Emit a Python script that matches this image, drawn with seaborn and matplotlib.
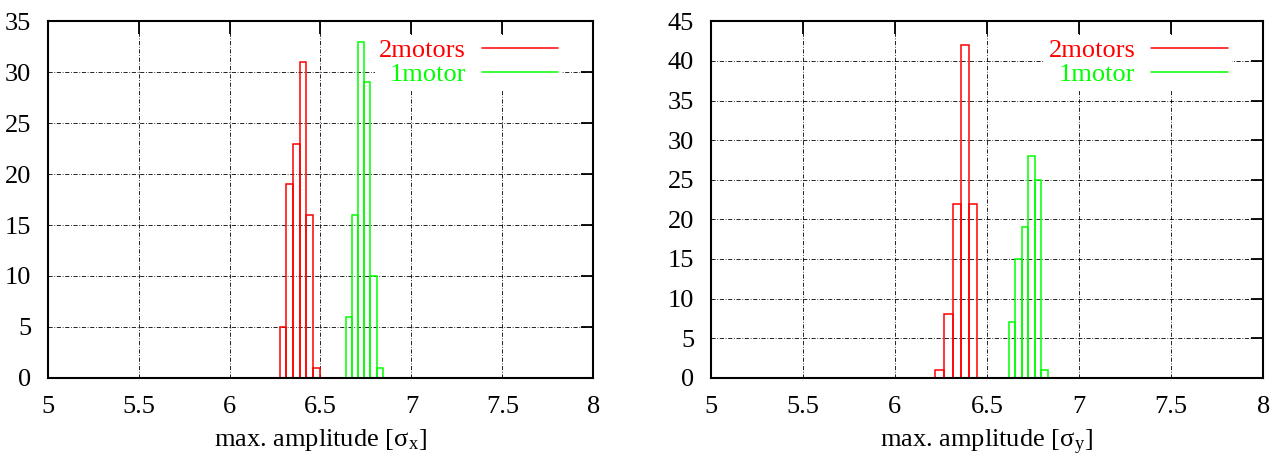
import numpy as np
import pandas as pd
import matplotlib
matplotlib.use("Agg")
import matplotlib.pyplot as plt
from matplotlib.lines import Line2D
import seaborn as sns

# === data: histogram bin centres and counts ===
# left panel (sigma_x)
x_two_centres = [6.295, 6.330, 6.367, 6.404, 6.440, 6.478]
x_two_counts = [5, 19, 23, 31, 16, 1]
x_one_centres = [6.655, 6.688, 6.722, 6.756, 6.790, 6.826]
x_one_counts = [6, 16, 33, 29, 10, 1]

# right panel (sigma_y)
y_two_centres = [6.243, 6.290, 6.337, 6.380, 6.424, 6.471]
y_two_counts = [1, 8, 22, 42, 22, 0]
y_one_centres = [6.638, 6.672, 6.707, 6.743, 6.778, 6.813]
y_one_counts = [7, 15, 19, 28, 25, 1]

labels = ["2motors", "1motor"]
colors = ["#ff0000", "#00ff00"]

sns.set_style("white")
plt.rcParams["font.family"] = ["Liberation Serif", "DejaVu Serif"]
plt.rcParams["mathtext.fontset"] = "stix"
plt.rcParams["text.color"] = "black"
plt.rcParams["axes.labelcolor"] = "black"

fig = plt.figure(figsize=(12.7, 4.57), dpi=100)
ax_l = fig.add_axes([0.0376, 0.1735, 0.4295, 0.7797])
ax_r = fig.add_axes([0.5596, 0.1735, 0.4350, 0.7797])


def edges_from(centres):
    c = np.asarray(centres)
    w = np.mean(np.diff(c))
    return list(np.append(c - w / 2, c[-1] + w / 2))


def panel(ax, series, ymax, sub):
    for (cen, cnt), lab, col in zip(series, labels, colors):
        df = pd.DataFrame({"amp": cen, "n": cnt})
        sns.histplot(data=df, x="amp", weights="n", bins=edges_from(cen), element="bars",
                     fill=False, color=col, linewidth=1.1, ax=ax)
    ax.set_xlim(5, 8)
    ax.set_ylim(0, ymax)
    ax.set_xticks(np.arange(5, 8.01, 0.5))
    ax.set_xticklabels(["5", "5.5", "6", "6.5", "7", "7.5", "8"])
    ax.set_yticks(np.arange(0, ymax + 1, 5))
    ax.set_ylabel("")
    ax.set_xlabel("max. amplitude [σ$_\\mathregular{" + sub + "}$]", fontsize=19,
                  labelpad=7, color="black")
    ax.grid(True, color="black", linestyle=(0, (5, 2, 1, 2)), linewidth=0.6)
    ax.tick_params(direction="in", length=9, width=1.3, top=True, right=True,
                   labelsize=19, colors="black")
    ax.tick_params(axis="x", pad=13)
    ax.tick_params(axis="y", pad=12)
    for s in ax.spines.values():
        s.set_color("black")
        s.set_linewidth(1.5)
    handles = [Line2D([], [], color=c, linewidth=1.1) for c in colors]
    leg = ax.legend(handles, labels, loc="upper right", bbox_to_anchor=(0.943, 0.962),
                    markerfirst=False, frameon=True, facecolor="white", edgecolor="none",
                    framealpha=1, fancybox=False, fontsize=19, handlelength=2.9,
                    handletextpad=0.6, labelspacing=0.0, borderpad=0.15, borderaxespad=0)
    for t, c in zip(leg.get_texts(), colors):
        t.set_color(c)
        t.set_ha("right")
    leg._legend_box.align = "right"


panel(ax_l, [(x_two_centres, x_two_counts), (x_one_centres, x_one_counts)], 35, "x")
panel(ax_r, [(y_two_centres, y_two_counts), (y_one_centres, y_one_counts)], 45, "y")

fig.savefig("out.png", dpi=100)
